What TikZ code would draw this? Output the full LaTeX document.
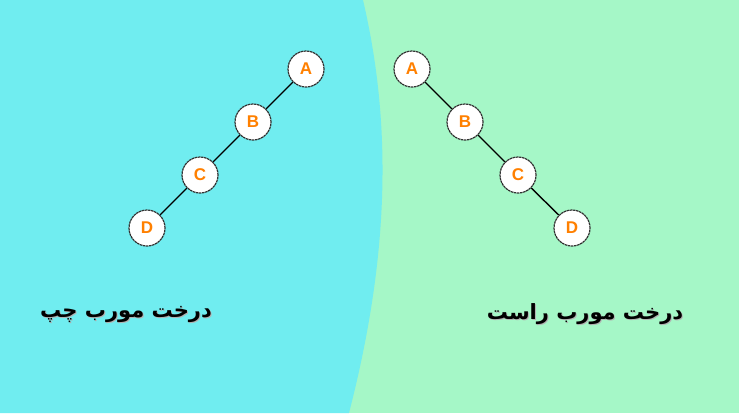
\documentclass[tikz,border=0pt]{standalone}
\usepackage{fontspec}
\setmainfont{Liberation Sans}
\newfontfamily\arabicfont[Script=Arabic]{DejaVu Sans}
\TeXXeTstate=1
\definecolor{leftbg}{HTML}{70EDF0}
\definecolor{rightbg}{HTML}{A5F7C7}
\definecolor{lettercol}{HTML}{FF8000}
\definecolor{rimcol}{HTML}{333333}
\begin{document}
\begin{tikzpicture}[x=1pt,y=-1pt,
  treenode/.style={circle,fill=white,draw=rimcol,line width=1.2pt,dash pattern=on 2.5pt off 0.6pt,minimum size=36pt,inner sep=0pt,font=\bfseries\fontsize{17}{17}\selectfont,text=lettercol},
  edge/.style={line width=1.4pt,black},
  title/.style={font=\arabicfont\bfseries\fontsize{21}{24}\selectfont,text=black}]
\useasboundingbox (0,0) rectangle (739,413);
\fill[rightbg] (0,0) rectangle (739,413);
\fill[leftbg] (0,0) -- (363,0) .. controls (391,120) and (391,250) .. (349,413) -- (0,413) -- cycle;
% left tree
\node[treenode] (la) at (306,69) {A};
\node[treenode] (lb) at (253,122) {B};
\node[treenode] (lc) at (200,175) {C};
\node[treenode] (ld) at (147,228) {D};
% right tree
\node[treenode] (ra) at (412,69) {A};
\node[treenode] (rb) at (465,122) {B};
\node[treenode] (rc) at (518,175) {C};
\node[treenode] (rd) at (572,228) {D};
\draw[edge] (la) -- (lb);
\draw[edge] (lb) -- (lc);
\draw[edge] (lc) -- (ld);
\draw[edge] (ra) -- (rb);
\draw[edge] (rb) -- (rc);
\draw[edge] (rc) -- (rd);
\node[title,text=black!30] at (127,315) {\beginR درخت مورب چپ\endR};
\node[title] (lt) at (126,314) {\beginR درخت مورب چپ\endR};
\node[title,text=black!30] at (586,315) {\beginR درخت مورب راست\endR};
\node[title] (rt) at (585,314) {\beginR درخت مورب راست\endR};
\end{tikzpicture}
\end{document}
